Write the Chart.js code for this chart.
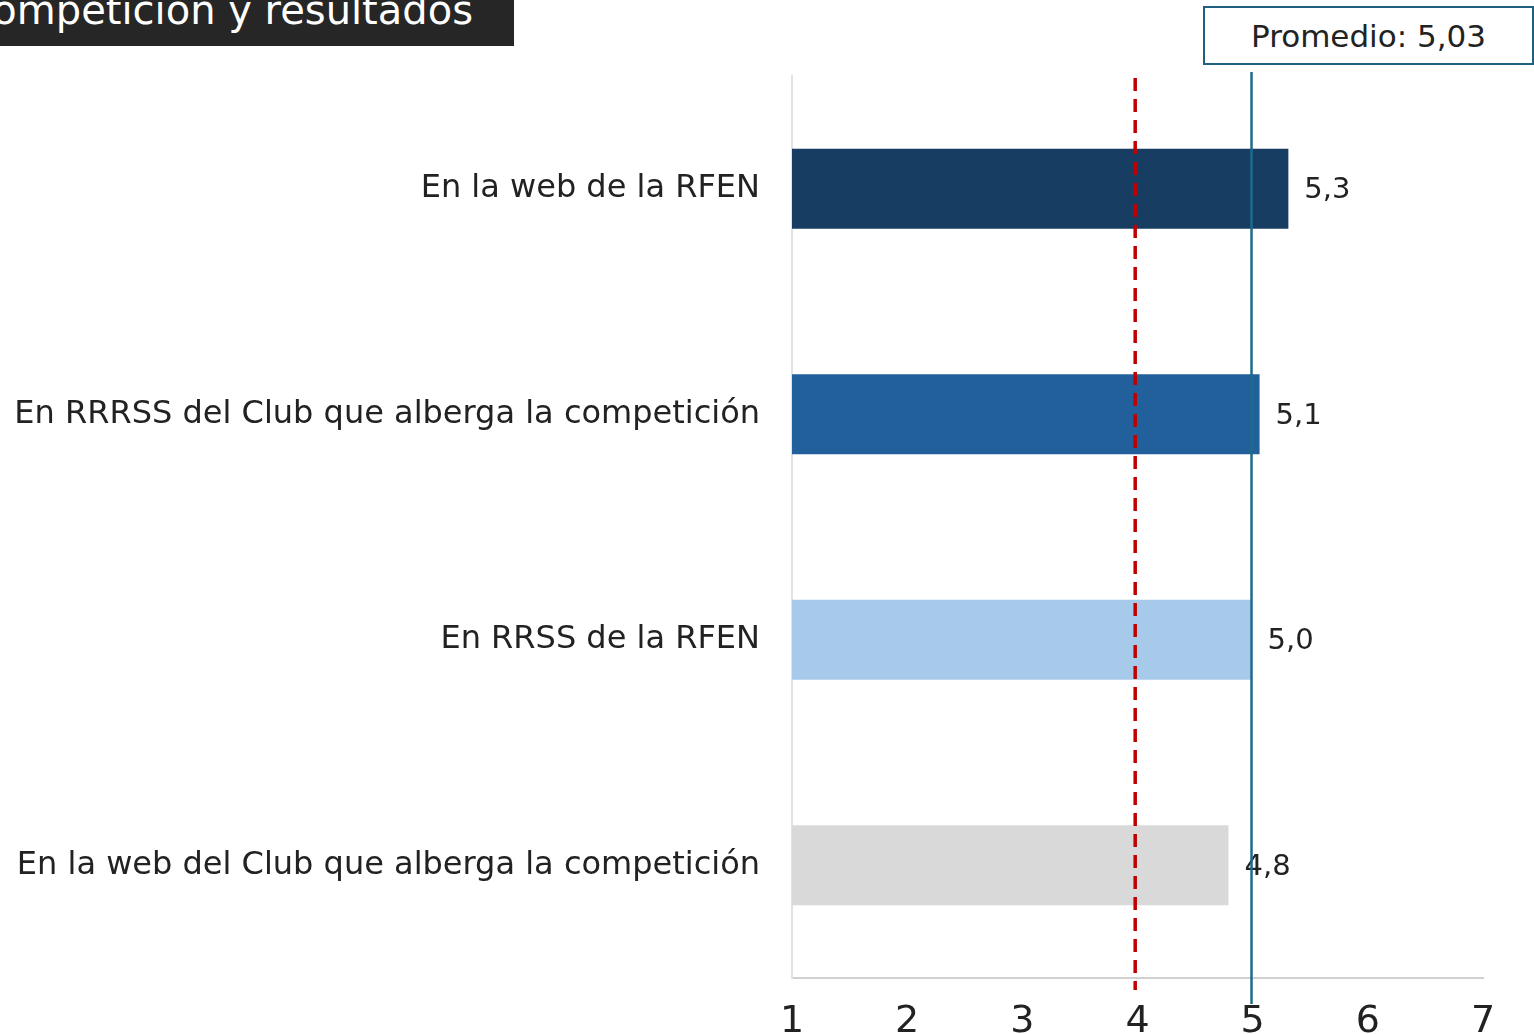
<!DOCTYPE html>
<html><head><meta charset="utf-8">
<script src="https://cdn.jsdelivr.net/npm/chart.js@4"></script>
<style>
html,body{margin:0;padding:0;background:#fff;overflow:hidden;width:1534px;height:1034px;}
#wrap{position:absolute;left:0;top:0;width:1534px;height:1034px;}
#title{position:absolute;left:0;top:0;width:514px;height:46px;background:#262626;overflow:hidden;}
#title span{position:absolute;right:41px;top:-14px;color:#fff;font:40px "DejaVu Sans",sans-serif;white-space:nowrap;line-height:48px;}
#prom{position:absolute;left:1203px;top:6px;width:327px;height:55px;border:2px solid #1F5F80;background:#fff;font:31px "DejaVu Sans",sans-serif;color:#222;text-align:center;line-height:57px;}
</style></head><body>
<div id="wrap"><canvas id="c" width="1534" height="1034"></canvas></div>
<div id="title"><span>Competición y resultados</span></div>
<div id="prom">Promedio: 5,03</div>
<script>
const categories = ["En la web de la RFEN","En RRRSS del Club que alberga la competición","En RRSS de la RFEN","En la web del Club que alberga la competición"];
const values = [5.31, 5.06, 4.99, 4.79];
const barColors = ["#183D63","#21609A","#A7CAEB","#D9D9D9"];
const xTicks = [1,2,3,4,5,6,7];
const promedioLine = 4.99;
const thresholdLine = 3.98;
const FONT = '"DejaVu Sans", sans-serif';

const overlay = {
  id:'overlay',
  afterDatasetsDraw(chart){
    const {ctx, scales:{x,y}} = chart;
    const meta = chart.getDatasetMeta(0);
    ctx.save();
    ctx.font = '29px ' + FONT;
    ctx.fillStyle = '#222';
    ctx.textBaseline = 'middle';
    ctx.textAlign = 'left';
    meta.data.forEach((bar,i)=>{
      ctx.fillText(values[i].toFixed(1).replace('.',','), bar.x+16, bar.y+2);
    });
    const rx = x.getPixelForValue(thresholdLine);
    ctx.strokeStyle = '#C00000'; ctx.lineWidth = 3.5; ctx.setLineDash([13,8]);
    ctx.beginPath(); ctx.moveTo(rx,78); ctx.lineTo(rx,990); ctx.stroke();
    const px = x.getPixelForValue(promedioLine);
    ctx.setLineDash([]); ctx.strokeStyle = '#1F6A8A'; ctx.lineWidth = 2.5;
    ctx.beginPath(); ctx.moveTo(px,72); ctx.lineTo(px,1004); ctx.stroke();
    ctx.restore();
  }
};

new Chart(document.getElementById('c'), {
  type:'bar',
  data:{labels:categories, datasets:[{data:values, backgroundColor:barColors, barPercentage:0.355, categoryPercentage:1, base:1}]},
  options:{
    indexAxis:'y', responsive:false, animation:false,
    layout:{padding:{left:0,right:51,top:76,bottom:0}},
    plugins:{legend:{display:false}, tooltip:{enabled:false}},
    scales:{
      x:{min:1,max:7, afterBuildTicks(s){s.ticks = xTicks.map(v=>({value:v}));},
        grid:{display:false, drawTicks:false},
        border:{display:true,color:'#D0D0D0',width:2},
        ticks:{font:{family:FONT,size:38},color:'#222',padding:21},
        afterFit(s){s.height = 56;}
      },
      y:{grid:{display:false, drawTicks:false},
        border:{display:true,color:'#E2E2E2',width:2},
        ticks:{font:{family:FONT,size:32},color:'#222',padding:32},
        afterFit(s){s.width = 792;}
      }
    }
  },
  plugins:[overlay]
});
</script>
</body></html>
